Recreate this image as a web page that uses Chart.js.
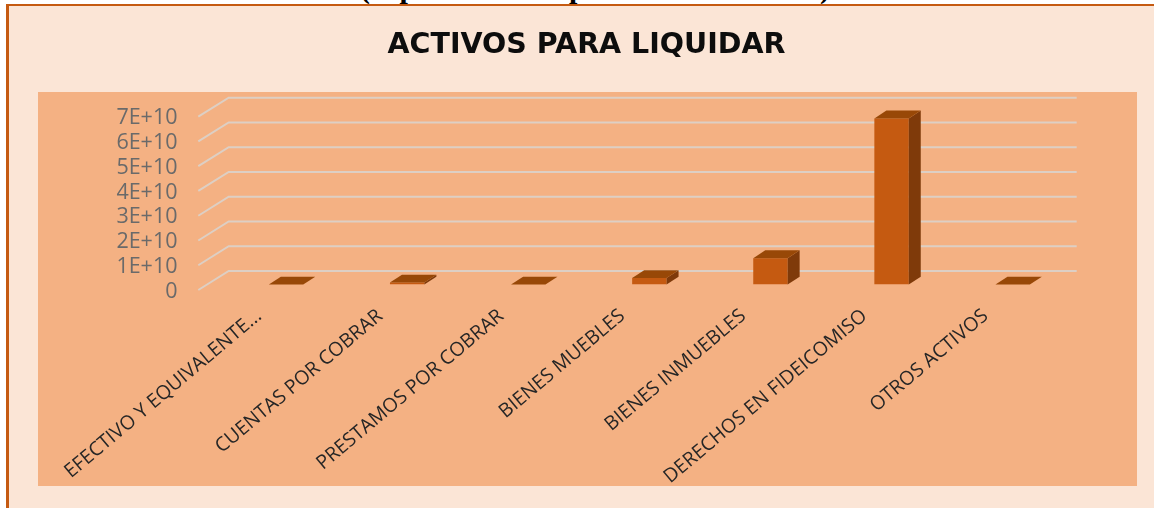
<!DOCTYPE html>
<html>
<head>
<meta charset="utf-8">
<style>
html,body{margin:0;padding:0;background:#fff;width:1154px;height:508px;overflow:hidden}
.cut{position:absolute;top:-27px;font:bold 30px/30px 'Liberation Serif',serif;color:#000}
#card{position:absolute;left:6px;top:4px;right:0;bottom:0;background:#FBE5D6;border-left:3px solid #C55A11;border-top:2px solid #C55A11}
#plot{position:absolute;left:38px;top:92px;width:1099px;height:394px;background:#F4B183}
canvas{position:absolute;left:0;top:0}
</style>
</head>
<body>
<span class="cut" style="left:360px">(</span>
<span class="cut" style="left:399.5px">p</span>
<span class="cut" style="left:569px">p</span>
<span class="cut" style="left:820px">)</span>
<div id="card"></div>
<div id="plot"></div>
<canvas id="c" width="1154" height="508"></canvas>
<script src="https://cdn.jsdelivr.net/npm/chart.js@4"></script>
<script>
const categories = ["EFECTIVO Y EQUIVALENTE...", "CUENTAS POR COBRAR", "PRESTAMOS POR COBRAR", "BIENES MUEBLES", "BIENES INMUEBLES", "DERECHOS EN FIDEICOMISO", "OTROS ACTIVOS"];
const activos = [20000000, 800000000, 0, 2600000000, 10650000000, 67100000000, 0];
const chartTitle = "ACTIVOS PARA LIQUIDAR";
const axisMax = 70000000000;
const axisStep = 10000000000;

const FONT = "'Open Sans'";
const depth3d = {
  id: 'depth3d',
  beforeDatasetsDraw(chart) {
    const {ctx, chartArea: a, scales: {y}} = chart;
    ctx.save();
    ctx.strokeStyle = '#DDCFC4';
    ctx.lineWidth = 2;
    y.ticks.forEach((t, i) => {
      const p = y.getPixelForTick(i);
      ctx.beginPath();
      ctx.moveTo(a.left - 27.2, p + 5.5);
      ctx.lineTo(a.left + 3.2, p - 13.5);
      ctx.lineTo(a.right + 3.5, p - 13.5);
      ctx.stroke();
    });
    ctx.restore();
  },
  afterDatasetsDraw(chart) {
    const {ctx} = chart;
    const dx = 12, dy = 7.8;
    ctx.save();
    chart.getDatasetMeta(0).data.forEach(bar => {
      const {x, y, base, width} = bar.getProps(['x', 'y', 'base', 'width'], true);
      const l = x - width / 2, r = x + width / 2;
      ctx.fillStyle = '#7F3A0A';
      ctx.beginPath();
      ctx.moveTo(r, y); ctx.lineTo(r + dx, y - dy); ctx.lineTo(r + dx, base - dy); ctx.lineTo(r, base);
      ctx.closePath(); ctx.fill();
      ctx.fillStyle = '#984807';
      ctx.beginPath();
      ctx.moveTo(l, y); ctx.lineTo(l + dx, y - dy); ctx.lineTo(r + dx, y - dy); ctx.lineTo(r, y);
      ctx.closePath(); ctx.fill();
    });
    ctx.restore();
  }
};

new Chart(document.getElementById('c'), {
  type: 'bar',
  data: {
    labels: categories,
    datasets: [{ label: 'Activos', data: activos, backgroundColor: '#C55A11', borderWidth: 0, categoryPercentage: 1, barPercentage: 0.284 }]
  },
  plugins: [depth3d],
  options: {
    responsive: false,
    animation: false,
    layout: { padding: { left: 99.8, right: 80.8, top: 0, bottom: 0 } },
    plugins: {
      legend: { display: false },
      tooltip: { enabled: false },
      title: {
        display: true,
        text: chartTitle,
        color: '#0D0D0D',
        font: { family: "'DejaVu Sans'", size: 28.5, weight: 'bold', lineHeight: 1.2 },
        padding: { top: 28, bottom: 49 }
      }
    },
    scales: {
      x: {
        grid: { display: false },
        border: { display: false },
        afterFit(s) { s.height = 223.5; },
        ticks: {
          autoSkip: false,
          minRotation: 40,
          maxRotation: 40,
          padding: 12,
          labelOffset: -27,
          color: '#262626',
          font: { family: FONT, size: 19.5 }
        }
      },
      y: {
        min: 0,
        max: axisMax,
        grid: { display: false, drawTicks: false },
        border: { display: false },
        afterFit(s) { s.width = 125.7; },
        ticks: {
          autoSkip: false,
          stepSize: axisStep,
          padding: 48,
          labelOffset: 7,
          color: '#6A6A6A',
          font: { family: FONT, size: 21.5 },
          callback: v => v === 0 ? '0' : (v / axisStep) + 'E+10'
        }
      }
    }
  }
});
</script>
</body>
</html>
